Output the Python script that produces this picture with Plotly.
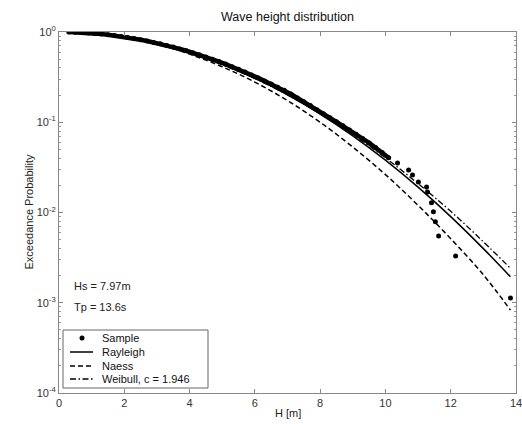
import plotly.graph_objects as go

# ---------------- data ----------------
sample_h = [0.3, 0.5, 0.7, 0.9, 1.1, 1.3, 1.5, 1.7, 1.9, 2.1, 2.3, 2.5, 2.7, 2.9,
            3.1, 3.3, 3.5, 3.7, 3.9, 4.1, 4.3, 4.5, 4.7, 4.9, 5.1, 5.3, 5.5, 5.7,
            5.9, 6.1, 6.3, 6.5, 6.7, 6.9, 7.1, 7.3, 7.5, 7.7, 7.9, 8.1, 8.3, 8.5,
            8.7, 8.9, 9.1, 9.3, 9.5, 9.7, 9.9, 10.1, 10.37, 10.71, 10.83, 11.01,
            11.26, 11.29, 11.41, 11.47, 11.53, 11.63, 12.15, 13.83]
sample_p = [0.997, 0.992, 0.985, 0.975, 0.963, 0.948, 0.932, 0.913, 0.893, 0.870,
            0.847, 0.821, 0.795, 0.767, 0.739, 0.710, 0.680, 0.650, 0.620, 0.589,
            0.559, 0.529, 0.499, 0.470, 0.441, 0.413, 0.386, 0.360, 0.334, 0.310,
            0.287, 0.265, 0.245, 0.226, 0.206, 0.186, 0.169, 0.153, 0.138, 0.124,
            0.112, 0.101, 0.0915, 0.0822, 0.0738, 0.0660, 0.0590, 0.0525, 0.0462,
            0.0405, 0.0354, 0.0296, 0.0261, 0.0218, 0.0192, 0.0169, 0.0128,
            0.0102, 0.0079, 0.0055, 0.0033, 0.00113]
n_band = 50  # dense part of the sample (drawn as a continuous band)

curve_h = [0.35, 1, 2, 3, 4, 5, 6, 7, 8, 9, 10, 11, 12, 13, 13.83]
rayleigh_p = [0.9961, 0.9678, 0.8774, 0.7450, 0.5924, 0.4415, 0.3082, 0.2014,
              0.1233, 0.0707, 0.0380, 0.0191, 0.00901, 0.00398, 0.00194]
naess_p = [0.9954, 0.9660, 0.8710, 0.7328, 0.5689, 0.4121, 0.2786, 0.1738,
           0.1000, 0.0531, 0.0263, 0.0120, 0.00513, 0.00204, 0.00083]
weibull_p = [0.9953, 0.9643, 0.8694, 0.7348, 0.5827, 0.4345, 0.3048, 0.2009,
             0.1247, 0.0731, 0.0403, 0.0209, 0.0103, 0.00474, 0.00241]

x_ticks = [0, 2, 4, 6, 8, 10, 12, 14]
y_ticks = [1e-4, 1e-3, 1e-2, 1e-1, 1]
y_ticktext = ["10<sup>-4</sup>", "10<sup>-3</sup>", "10<sup>-2</sup>",
              "10<sup>-1</sup>", "10<sup>0</sup>"]
y_minor = [m * 10.0 ** e for e in range(-4, 0) for m in range(2, 10)]

title_text = "Wave height distribution"
x_title = "H [m]"
y_title = "Exceedance Probability"
info_lines = ["Hs = 7.97m", "Tp = 13.6s"]
legend_names = ["Sample", "Rayleigh", "Naess", "Weibull, c = 1.946"]

# ---------------- layout geometry (pixels) ----------------
W, H = 522, 424
L, R, T, B = 59, 516, 32, 393
def px(X):
    return (X - L) / (R - L)
def py(Y):
    return (B - Y) / (B - T)

FONT = "Liberation Sans, Arial, Helvetica, sans-serif"
fig = go.Figure()

fig.add_trace(go.Scatter(x=sample_h[:n_band], y=sample_p[:n_band], mode="lines",
                         line=dict(color="black", width=4.5),
                         showlegend=False, hoverinfo="skip"))
fig.add_trace(go.Scatter(x=sample_h, y=sample_p, mode="markers", name=legend_names[0],
                         marker=dict(color="black", size=5), showlegend=False))
line_styles = [dict(color="black", width=1.5, shape="spline"),
               dict(color="black", width=1.5, dash="5px,3px", shape="spline"),
               dict(color="black", width=1.3, dash="6px,2.5px,1.5px,2.5px",
                    shape="spline")]
for name, vals, st in zip(legend_names[1:], [rayleigh_p, naess_p, weibull_p],
                          line_styles):
    fig.add_trace(go.Scatter(x=curve_h, y=vals, mode="lines", name=name,
                             line=st, showlegend=False))

fig.update_layout(
    width=W, height=H,
    margin=dict(l=L, r=W - R, t=T, b=H - B, autoexpand=False),
    paper_bgcolor="white", plot_bgcolor="white",
    font=dict(family=FONT, size=11, color="#222"),
    title=dict(text=title_text, x=(L + R) / 2 / W, xanchor="center",
               y=1 - 17 / H, yanchor="middle",
               font=dict(size=12.5, color="#111")),
    showlegend=False,
)

fig.update_xaxes(range=[0, 14], tickvals=x_ticks, ticks="inside", ticklen=4,
                 tickcolor="#888", showline=True, linecolor="#888", linewidth=1,
                 mirror="ticks", showgrid=False, zeroline=False, automargin=False,
                 ticklabeloverflow="allow",
                 tickfont=dict(size=11, color="#333"))
fig.update_yaxes(type="log", range=[-4, 0], tickvals=y_ticks, ticktext=y_ticktext,
                 ticks="inside", ticklen=4, tickcolor="#888",
                 minor=dict(tickmode="array", tickvals=y_minor, ticks="inside",
                            ticklen=2, tickcolor="#999"),
                 showline=True, linecolor="#888", linewidth=1, mirror="ticks",
                 showgrid=False, zeroline=False, automargin=False,
                 ticklabeloverflow="allow",
                 tickfont=dict(size=11, color="#333"))

# axis titles
fig.add_annotation(text=x_title, xref="paper", yref="paper", x=0.5, y=py(413),
                   xanchor="center", yanchor="middle", showarrow=False,
                   font=dict(size=11, color="#222"))
fig.add_annotation(text=y_title, xref="paper", yref="paper", x=px(28), y=0.5,
                   xanchor="center", yanchor="middle", showarrow=False,
                   textangle=-90, font=dict(size=11, color="#222"))

# info text
for txt, Y in zip(info_lines, [286, 307]):
    fig.add_annotation(text=txt, xref="paper", yref="paper", x=px(72), y=py(Y),
                       xanchor="left", yanchor="middle", showarrow=False,
                       font=dict(size=11, color="#222"))

# legend box (drawn by hand to match the compact reference legend)
fig.add_shape(type="rect", xref="paper", yref="paper",
              x0=px(63), x1=px(208), y0=py(388), y1=py(330),
              line=dict(color="#666", width=1), fillcolor="white", layer="above")
entry_y = [338, 352, 366, 379]
fig.add_shape(type="circle", xref="paper", yref="paper",
              x0=px(79.5), x1=px(84.5), y0=py(entry_y[0] + 2.5), y1=py(entry_y[0] - 2.5),
              line=dict(color="black", width=0), fillcolor="black", layer="above")
dashes = ["solid", "5px,3px", "6px,2.5px,1.5px,2.5px"]
for Y, d in zip(entry_y[1:], dashes):
    fig.add_shape(type="line", xref="paper", yref="paper",
                  x0=px(70), x1=px(93), y0=py(Y), y1=py(Y),
                  line=dict(color="black", width=1.5, dash=d), layer="above")
for Y, name in zip(entry_y, legend_names):
    fig.add_annotation(text=name, xref="paper", yref="paper", x=px(100), y=py(Y),
                       xanchor="left", yanchor="middle", showarrow=False,
                       font=dict(size=11, color="#111"))

fig.write_html("out.html", config={"displayModeBar": False, "staticPlot": True},
               post_script="document.body.style.margin='0';"
                           "document.body.style.overflow='hidden';")
